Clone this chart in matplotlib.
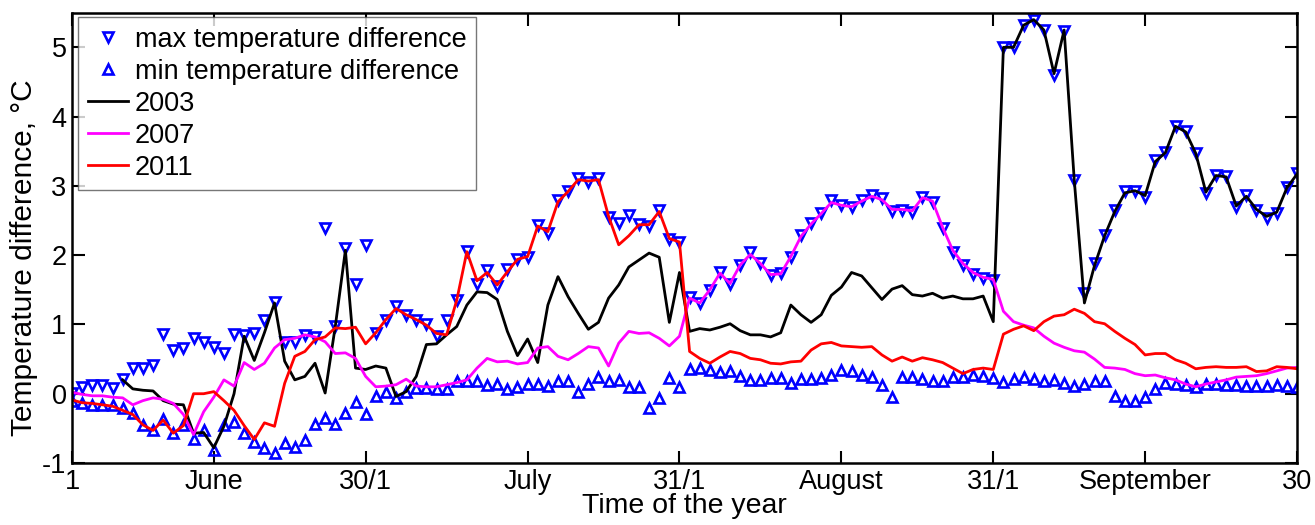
import numpy as np
import matplotlib
matplotlib.use("Agg")
import matplotlib.pyplot as plt

plt.rcParams['font.family'] = ['Liberation Sans', 'DejaVu Sans']
plt.rcParams['axes.unicode_minus'] = False

# day index (1 June .. 30 September)
days = np.arange(1, 123)

max_diff = [0.01, 0.10, 0.13, 0.13, 0.08, 0.21, 0.37, 0.37, 0.42, 0.86,
            0.63, 0.66, 0.81, 0.75, 0.67, 0.59, 0.86, 0.85, 0.87, 1.06,
            1.32, 0.75, 0.75, 0.85, 0.82, 2.39, 0.98, 2.11, 1.58, 2.14,
            0.88, 1.06, 1.26, 1.14, 1.07, 1.01, 0.83, 1.06, 1.36, 2.06,
            1.59, 1.78, 1.55, 1.80, 1.95, 1.98, 2.44, 2.32, 2.80, 2.93,
            3.11, 3.05, 3.11, 2.55, 2.47, 2.58, 2.45, 2.42, 2.65, 2.24,
            2.19, 1.40, 1.31, 1.50, 1.76, 1.59, 1.86, 2.04, 1.89, 1.71,
            1.74, 1.98, 2.29, 2.47, 2.61, 2.79, 2.72, 2.70, 2.79, 2.87,
            2.83, 2.64, 2.65, 2.63, 2.84, 2.77, 2.39, 2.05, 1.86, 1.73,
            1.67, 1.64, 5.00, 5.00, 5.32, 5.40, 5.25, 4.60, 5.24, 3.08,
            1.45, 1.88, 2.29, 2.65, 2.92, 2.93, 2.84, 3.37, 3.49, 3.86,
            3.79, 3.48, 2.90, 3.16, 3.15, 2.69, 2.87, 2.65, 2.53, 2.61,
            2.98, 3.18]

min_diff = [-0.11, -0.13, -0.16, -0.16, -0.16, -0.21, -0.28, -0.45, -0.53, -0.36,
            -0.57, -0.45, -0.66, -0.53, -0.81, -0.45, -0.41, -0.56, -0.70, -0.78,
            -0.86, -0.71, -0.77, -0.67, -0.43, -0.35, -0.43, -0.28, -0.12, -0.29,
            -0.03, 0.03, -0.06, 0.02, 0.08, 0.08, 0.07, 0.07, 0.18, 0.19,
            0.18, 0.12, 0.14, 0.07, 0.10, 0.14, 0.14, 0.11, 0.19, 0.18,
            0.03, 0.14, 0.24, 0.19, 0.20, 0.10, 0.10, -0.21, -0.06, 0.22,
            0.10, 0.36, 0.37, 0.34, 0.31, 0.33, 0.26, 0.20, 0.20, 0.22,
            0.22, 0.15, 0.21, 0.21, 0.22, 0.27, 0.34, 0.33, 0.27, 0.24,
            0.12, -0.05, 0.24, 0.24, 0.21, 0.18, 0.19, 0.24, 0.24, 0.27,
            0.25, 0.22, 0.17, 0.21, 0.24, 0.21, 0.19, 0.20, 0.16, 0.11,
            0.14, 0.18, 0.18, -0.04, -0.11, -0.11, -0.05, 0.07, 0.15, 0.14,
            0.13, 0.10, 0.14, 0.14, 0.13, 0.12, 0.11, 0.11, 0.11, 0.12,
            0.11, 0.10]

y2003 = [np.nan, np.nan, np.nan, np.nan, np.nan, 0.20, 0.07, 0.05, 0.04, -0.10,
         -0.15, -0.16, -0.57, -0.56, -0.78, -0.47, 0.00, 0.83, 0.48, 0.88,
         1.31, 0.47, 0.20, 0.25, 0.44, 0.01, 0.97, 2.07, 0.37, 0.35,
         0.40, 0.37, -0.04, 0.03, 0.25, 0.71, 0.72, 0.85, 0.97, 1.28,
         1.47, 1.46, 1.36, 0.90, 0.55, 0.79, 0.45, 1.28, 1.69, 1.40,
         1.16, 0.93, 1.03, 1.38, 1.57, 1.83, 1.93, 2.03, 1.97, 1.03,
         1.75, 0.90, 0.94, 0.92, 0.96, 1.01, 0.91, 0.85, 0.85, 0.82,
         0.88, 1.28, 1.14, 1.03, 1.14, 1.42, 1.54, 1.75, 1.70, 1.53,
         1.36, 1.51, 1.56, 1.43, 1.41, 1.45, 1.38, 1.41, 1.37, 1.37,
         1.41, 1.04, 5.00, 5.00, 5.32, 5.40, 5.25, 4.62, 5.25, 3.08,
         1.31, 1.85, 2.28, 2.63, 2.90, 2.93, 2.86, 3.35, 3.48, 3.86,
         3.78, 3.47, 2.91, 3.15, 3.13, 2.71, 2.85, 2.66, 2.56, 2.62,
         2.97, 3.17]

y2007 = [0.02, -0.01, -0.03, -0.03, -0.05, -0.06, -0.16, -0.10, -0.06, -0.08,
         -0.14, -0.30, -0.59, -0.26, -0.05, 0.20, 0.11, 0.45, 0.35, 0.44,
         0.66, 0.78, 0.80, 0.85, 0.82, 0.75, 0.58, 0.59, 0.51, 0.25,
         0.10, 0.11, 0.13, 0.21, 0.11, 0.10, 0.10, 0.13, 0.16, 0.20,
         0.37, 0.51, 0.46, 0.47, 0.43, 0.45, 0.66, 0.68, 0.54, 0.49,
         0.58, 0.68, 0.66, 0.40, 0.73, 0.90, 0.87, 0.88, 0.80, 0.69,
         0.83, 1.38, 1.31, 1.50, 1.74, 1.59, 1.86, 2.01, 1.88, 1.72,
         1.73, 1.98, 2.27, 2.45, 2.60, 2.76, 2.72, 2.70, 2.78, 2.85,
         2.80, 2.66, 2.66, 2.64, 2.83, 2.78, 2.40, 2.07, 1.88, 1.75,
         1.68, 1.65, 1.19, 1.04, 0.99, 0.95, 0.83, 0.73, 0.67, 0.62,
         0.60, 0.50, 0.38, 0.37, 0.35, 0.29, 0.26, 0.27, 0.23, 0.20,
         0.14, 0.10, 0.14, 0.17, 0.20, 0.24, 0.25, 0.26, 0.29, 0.33,
         0.37, 0.38]

y2011 = [-0.09, -0.13, -0.14, -0.16, -0.18, -0.24, -0.30, -0.45, -0.53, -0.38,
         -0.57, -0.46, 0.00, 0.00, 0.03, -0.10, -0.24, -0.46, -0.66, -0.42,
         -0.47, 0.15, 0.54, 0.61, 0.78, 0.82, 0.95, 0.94, 0.96, 0.72,
         0.88, 1.07, 1.23, 1.14, 1.07, 0.99, 0.87, 0.85, 1.35, 2.05,
         1.63, 1.75, 1.57, 1.76, 1.94, 1.98, 2.42, 2.34, 2.77, 2.92,
         3.09, 3.07, 3.09, 2.56, 2.15, 2.28, 2.44, 2.44, 2.63, 2.24,
         2.19, 0.61, 0.51, 0.44, 0.53, 0.61, 0.58, 0.51, 0.49, 0.44,
         0.43, 0.46, 0.47, 0.63, 0.72, 0.74, 0.69, 0.68, 0.67, 0.68,
         0.56, 0.47, 0.53, 0.47, 0.52, 0.49, 0.45, 0.37, 0.29, 0.35,
         0.37, 0.35, 0.86, 0.93, 0.98, 0.91, 1.04, 1.12, 1.14, 1.22,
         1.16, 1.04, 1.01, 0.90, 0.80, 0.71, 0.56, 0.58, 0.58, 0.49,
         0.44, 0.36, 0.38, 0.39, 0.38, 0.38, 0.39, 0.32, 0.33, 0.39,
         0.38, 0.36]

tick_pos = [1, 15, 30, 46, 61, 77, 92, 107, 122]
tick_labels = ['1', 'June', '30/1', 'July', '31/1', 'August', '31/1', 'September', '30']

fig = plt.figure(figsize=(13.15, 5.25), dpi=100)
ax = fig.add_axes([0.0548, 0.1181, 0.9315, 0.8577])

ax.plot(days, max_diff, 'v', color='blue', mfc='none', mew=1.9, ms=7.5,
        label='max temperature difference')
ax.plot(days, min_diff, '^', color='blue', mfc='none', mew=1.9, ms=7.5,
        label='min temperature difference')
ax.plot(days, y2003, '-', color='black', lw=2, label='2003')
ax.plot(days, y2007, '-', color='magenta', lw=2, label='2007')
ax.plot(days, y2011, '-', color='red', lw=2, label='2011')

ax.set_xlim(1, 122)
ax.set_ylim(-1, 5.5)
ax.set_xticks(tick_pos)
ax.set_xticklabels(tick_labels)
ax.set_yticks(range(-1, 6))
ax.tick_params(direction='in', length=9, width=1.5, labelsize=19.5,
               top=True, right=True, pad=4)
for sp in ax.spines.values():
    sp.set_linewidth(1.8)

ax.set_xlabel('Time of the year', fontsize=20.5, labelpad=-1)
ax.set_ylabel('Temperature difference, °C', fontsize=21.5)
ax.yaxis.set_label_coords(-0.028, 0.455)

leg = ax.legend(loc='upper left', bbox_to_anchor=(0.005, 0.99), fontsize=19.5,
                frameon=True, fancybox=False, edgecolor='#555555',
                handlelength=1.5, handletextpad=0.25, labelspacing=0.22,
                borderpad=0.35, borderaxespad=0)
leg.get_frame().set_linewidth(1.0)

fig.savefig('out.png', dpi=100)
